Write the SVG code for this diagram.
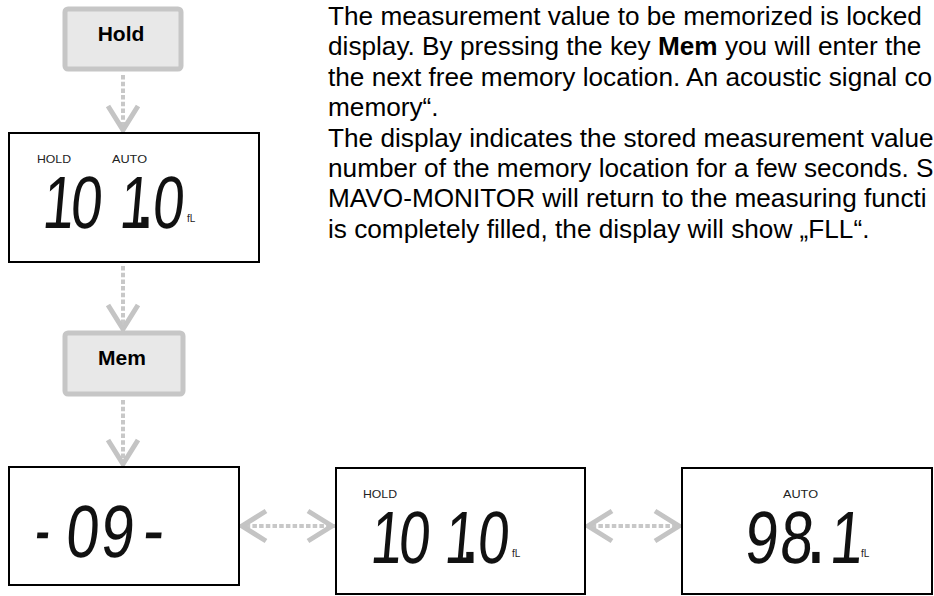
<svg xmlns="http://www.w3.org/2000/svg" width="934" height="596" viewBox="0 0 934 596">
<defs>
<style>
.key rect{fill:#e8e8e8;stroke:#c6c6c6;stroke-width:5}
.key text{font-family:"Liberation Sans",Arial,sans-serif;font-weight:bold;font-size:21px;fill:#000;text-anchor:middle}
.lcd rect{fill:#fff;stroke:#000;stroke-width:2}
.seg{font-family:"Liberation Sans",Arial,sans-serif;font-size:74px;fill:#111;text-anchor:middle}
.dot{font-family:"Liberation Sans",Arial,sans-serif;font-size:74px;font-weight:bold;fill:#111;text-anchor:middle}
.ann{font-family:"Liberation Sans",Arial,sans-serif;font-size:11px;fill:#222}
.unit{font-family:"Liberation Sans",Arial,sans-serif;font-size:10px;fill:#222}
.body{font-family:"Liberation Sans",Arial,sans-serif;font-size:26.2px;fill:#000}
.conn line{stroke:#c8c8c8;stroke-width:4;stroke-dasharray:4.5 2.2;fill:none}
</style>
<marker id="chev" viewBox="-30 -20 36 40" refX="0" refY="0" markerWidth="36" markerHeight="40" markerUnits="userSpaceOnUse" orient="auto-start-reverse">
<path d="M-27,-15 L-3,0 L-27,15" fill="none" stroke="#c4c4c4" stroke-width="5"/>
</marker>
</defs>

<g id="connectors" class="conn">
<line x1="123" y1="75" x2="123" y2="133" marker-end="url(#chev)"/>
<line x1="123" y1="266" x2="123" y2="332" marker-end="url(#chev)"/>
<line x1="123" y1="400" x2="123" y2="467" marker-end="url(#chev)"/>
<line x1="239" y1="526" x2="335" y2="526" marker-start="url(#chev)" marker-end="url(#chev)"/>
<line x1="585" y1="526" x2="682" y2="526" marker-start="url(#chev)" marker-end="url(#chev)"/>
</g>

<g id="key-hold" class="key">
<rect x="65" y="9" width="116" height="60" rx="3"/>
<text x="121" y="41">Hold</text>
</g>

<g id="display-hold" class="lcd">
<rect x="9" y="133" width="250" height="129"/>
<text class="ann" x="37" y="163" textLength="34" lengthAdjust="spacingAndGlyphs">HOLD</text>
<text class="ann" x="112" y="163" textLength="35" lengthAdjust="spacingAndGlyphs">AUTO</text>
<text class="seg" transform="translate(57,228) skewX(-5) scale(0.76,1)">1</text>
<text class="seg" transform="translate(85,228) skewX(-5) scale(0.76,1)">0</text>
<text class="seg" transform="translate(134,228) skewX(-5) scale(0.76,1)">1</text>
<text class="dot" transform="translate(145,228) scale(0.7,1)">.</text>
<text class="seg" transform="translate(167,228) skewX(-5) scale(0.76,1)">0</text>
<text class="unit" x="187" y="222">fL</text>
</g>

<g id="key-mem" class="key">
<rect x="65" y="333" width="118" height="61" rx="3"/>
<text x="122" y="365">Mem</text>
</g>

<g id="display-location" class="lcd">
<rect x="9" y="467" width="230" height="118"/>
<text class="seg" transform="translate(41,555) skewX(-5) scale(0.6,1)">-</text>
<text class="seg" transform="translate(81,557) skewX(-5) scale(0.8,1)">0</text>
<text class="seg" transform="translate(116,557) skewX(-5) scale(0.8,1)">9</text>
<text class="seg" transform="translate(152,555) skewX(-5) scale(0.85,1)">-</text>
</g>

<g id="display-stored" class="lcd">
<rect x="336" y="468" width="249" height="126"/>
<text class="ann" x="363" y="498" textLength="34" lengthAdjust="spacingAndGlyphs">HOLD</text>
<text class="seg" transform="translate(385,563) skewX(-5) scale(0.76,1)">1</text>
<text class="seg" transform="translate(413,563) skewX(-5) scale(0.76,1)">0</text>
<text class="seg" transform="translate(459,563) skewX(-5) scale(0.76,1)">1</text>
<text class="dot" transform="translate(470,563) scale(0.7,1)">.</text>
<text class="seg" transform="translate(492,563) skewX(-5) scale(0.76,1)">0</text>
<text class="unit" x="512" y="557">fL</text>
</g>

<g id="display-measure" class="lcd">
<rect x="682" y="468" width="250" height="126"/>
<text class="ann" x="783" y="498" textLength="35" lengthAdjust="spacingAndGlyphs">AUTO</text>
<text class="seg" transform="translate(760,563) skewX(-5) scale(0.8,1)">9</text>
<text class="seg" transform="translate(795,563) skewX(-5) scale(0.8,1)">8</text>
<text class="dot" transform="translate(816,563) scale(0.7,1)">.</text>
<text class="seg" transform="translate(845,563) skewX(-5) scale(0.8,1)">1</text>
<text class="unit" x="861" y="557">fL</text>
</g>

<g id="description" class="body">
<text x="328" y="25">The measurement value to be memorized is locked</text>
<text x="328" y="55.4">display. By pressing the key <tspan font-weight="bold">Mem</tspan> you will enter the</text>
<text x="328" y="85.8">the next free memory location. An acoustic signal co</text>
<text x="328" y="116.2">memory“.</text>
<text x="328" y="146.6">The display indicates the stored measurement value</text>
<text x="328" y="177">number of the memory location for a few seconds. S</text>
<text x="328" y="207.4">MAVO-MONITOR will return to the measuring functi</text>
<text x="328" y="237.8">is completely filled, the display will show „FLL“.</text>
</g>
</svg>
